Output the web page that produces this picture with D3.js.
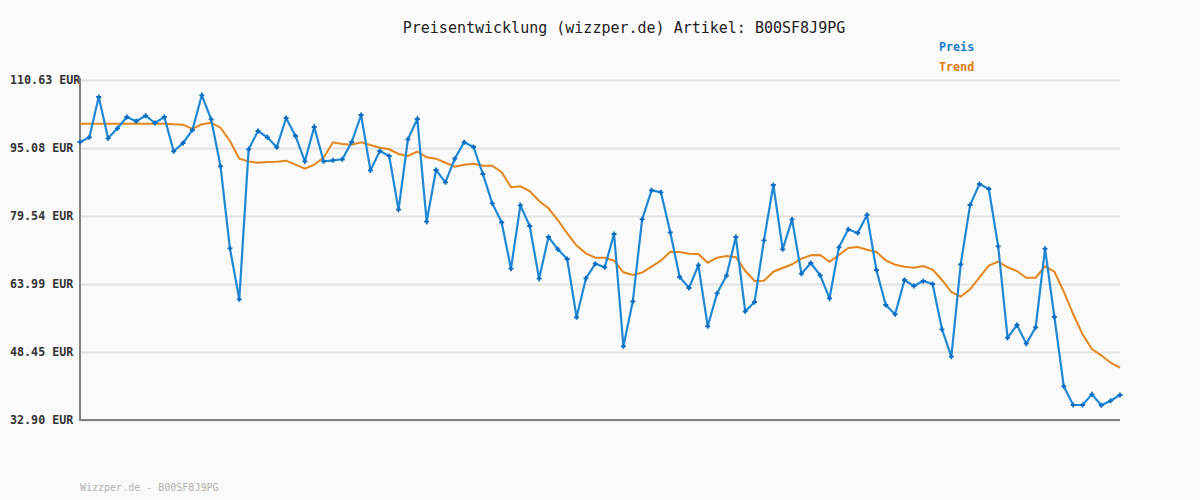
<!DOCTYPE html>
<html><head><meta charset="utf-8">
<script src="https://cdn.jsdelivr.net/npm/d3@7/dist/d3.min.js"></script>
<style>html,body{margin:0;padding:0;background:#fafafa;}svg{display:block;}</style>
</head><body>
<svg id="c" width="1200" height="500"></svg>
<script>
const title = "Preisentwicklung (wizzper.de) Artikel: B00SF8J9PG";
const footer = "Wizzper.de - B00SF8J9PG";
const seriesNames = ["Preis", "Trend"];
const yTicks = [32.90, 48.45, 63.99, 79.54, 95.08, 110.63];
const preis = [96.46,97.53,106.74,97.30,99.59,102.17,101.19,102.47,100.80,102.17,
94.33,96.23,99.20,107.13,101.65,90.90,72.15,60.49,94.79,98.97,
97.53,95.24,101.94,97.83,92.04,99.88,92.04,92.27,92.50,96.45,
102.63,89.99,94.40,93.25,80.98,97.07,101.71,78.24,90.05,87.24,
92.64,96.39,95.31,89.14,82.44,78.08,67.49,81.98,77.25,65.20,
74.74,71.93,69.71,56.38,65.29,68.63,67.81,75.42,49.75,60.04,
78.78,85.41,84.96,75.81,65.59,63.08,68.27,54.32,61.87,65.89,
74.74,57.75,59.88,73.98,86.63,71.93,78.78,66.35,68.79,65.98,
60.72,72.38,76.50,75.65,79.77,67.19,59.19,57.06,64.91,63.53,
64.68,63.99,53.63,47.37,68.50,82.05,86.85,85.71,72.61,51.72,
54.62,50.34,54.09,72.06,56.45,40.60,36.33,36.33,38.77,36.26,
37.31,38.62];
const trend = [100.64,100.64,100.64,100.64,100.64,100.64,100.64,100.64,100.64,100.64,
100.50,100.41,99.43,100.50,100.87,99.72,96.68,92.64,92.00,91.72,
91.88,91.95,92.18,91.27,90.35,91.27,92.87,96.39,96.00,95.84,
96.39,95.77,95.15,94.79,93.71,93.25,94.28,92.96,92.64,91.72,
90.81,91.27,91.49,91.04,91.04,89.53,86.10,86.33,85.25,82.97,
81.30,78.62,75.58,72.79,71.01,70.00,70.00,69.32,66.67,66.05,
66.58,67.95,69.32,71.38,71.31,70.92,70.85,68.86,70.00,70.39,
70.10,67.01,64.68,64.75,66.80,67.65,68.50,69.78,70.55,70.62,
69.09,70.62,72.22,72.45,71.83,71.31,69.41,68.40,67.95,67.72,
68.11,67.31,64.91,62.16,61.09,62.78,65.52,68.18,69.09,67.81,
66.96,65.43,65.43,68.04,66.80,62.23,57.13,52.49,49.13,47.69,
46.00,44.86];

const svg = d3.select("#c");
const L = 80, R = 1120, T = 80, B = 420;
const x = d3.scaleLinear().domain([0, preis.length - 1]).range([L, R]);
const y = d3.scaleLinear().domain([yTicks[0], yTicks[yTicks.length - 1]]).range([B, T]);
const mono = "'DejaVu Sans Mono', 'Liberation Mono', monospace";

svg.append("rect").attr("width", 1200).attr("height", 500).attr("fill", "#fafafa");

// grid
const yAxis = d3.axisLeft(y).tickValues(yTicks).tickSize(-(R - L)).tickFormat("");
const g = svg.append("g").attr("transform", `translate(${L},0)`).call(yAxis);
g.select(".domain").remove();
g.selectAll(".tick line").attr("stroke", "#e2e2e2").attr("stroke-width", 2);

// tick labels
svg.append("g").selectAll("text").data(yTicks).join("text")
  .attr("x", 10).attr("y", d => y(d)).attr("dy", "0.35em")
  .attr("font-family", mono).attr("font-size", 11.7).attr("font-weight", "bold")
  .attr("fill", "#333").text(d => d.toFixed(2) + " EUR");

// axes lines
svg.append("line").attr("x1", L).attr("x2", L).attr("y1", T - 2).attr("y2", B + 1)
  .attr("stroke", "#808080").attr("stroke-width", 2);
svg.append("line").attr("x1", L - 1).attr("x2", R).attr("y1", B).attr("y2", B)
  .attr("stroke", "#808080").attr("stroke-width", 2);

const line = d3.line().x((d, i) => x(i)).y(d => y(d));
svg.append("path").datum(trend).attr("d", line).attr("fill", "none")
  .attr("stroke", "#e3861c").attr("stroke-width", 2);
svg.append("path").datum(preis).attr("d", line).attr("fill", "none")
  .attr("stroke", "#1f88d4").attr("stroke-width", 2.2);
svg.append("g").selectAll("path").data(preis).join("path")
  .attr("d", (d, i) => { const cx = x(i), cy = y(d); return `M${cx-2.5},${cy}H${cx+2.5}M${cx},${cy-2.5}V${cy+2.5}`; })
  .attr("stroke", "#0a6cbf").attr("stroke-width", 1.8);

// title
svg.append("text").attr("x", 624).attr("y", 33).attr("text-anchor", "middle")
  .attr("font-family", mono).attr("font-size", 15).attr("fill", "#222").text(title);

// legend
const legColors = ["#1a7cc8", "#e07b0c"];
svg.append("g").selectAll("text").data(seriesNames).join("text")
  .attr("x", 939).attr("y", (d, i) => 51 + i * 20)
  .attr("font-family", mono).attr("font-size", 11.7).attr("font-weight", "bold")
  .attr("fill", (d, i) => legColors[i]).text(d => d);

// footer
svg.append("text").attr("x", 80).attr("y", 491)
  .attr("font-family", mono).attr("font-size", 10).attr("fill", "#b0b0b0").text(footer);
</script>
</body></html>
